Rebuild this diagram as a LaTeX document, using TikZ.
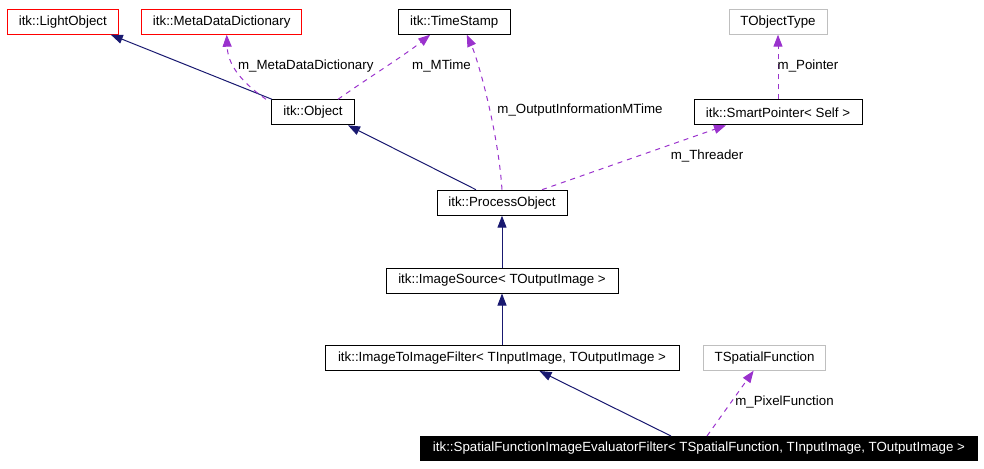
\documentclass[tikz,border=0pt]{standalone}
\usepackage{fontspec}
\setmainfont{Liberation Sans}
\usepackage{xcolor}
\definecolor{edgeNavy}{HTML}{191970}
\definecolor{edgePurple}{HTML}{9A32CD}
\definecolor{boxRed}{HTML}{FF0000}
\definecolor{boxGray}{HTML}{BFBFBF}
\usepackage{tikz}
\usetikzlibrary{
    arrows.meta,
    positioning
}
\tikzset{
    % Base style for all class boxes
    class base/.style={
        font=\fontsize{13.3}{16}\selectfont,
        rectangle,
        inner sep=0pt,
        minimum height=25pt,
        line width=1pt,
        text=black,
    },
    % Documented classes - plain black frame
    klass/.style={
        class base,
        draw=black,
    },
    % Classes without documentation - red frame
    klass red/.style={
        class base,
        draw=boxRed,
    },
    % Template parameters - light gray frame
    klass param/.style={
        class base,
        draw=boxGray,
    },
    % The class the graph is drawn for - inverted
    klass main/.style={
        class base,
        draw=black,
        fill=black,
        text=white,
    },
    % Inheritance arrow - solid navy
    inherit/.style={
        -{Triangle[length=12pt, width=9pt]},
        line width=1pt,
        draw=edgeNavy,
    },
    % Usage arrow - dashed purple
    uses/.style={
        -{Triangle[length=12pt, width=9pt]},
        line width=1pt,
        draw=edgePurple,
        dash pattern=on 5pt off 5pt,
    },
    % Member name next to a usage arrow
    edge label/.style={
        font=\fontsize{13.3}{16}\selectfont,
        inner sep=0pt,
        text=black,
    },
}

\begin{document}
\begin{tikzpicture}[x=1pt, y=-1pt]
    \useasboundingbox (0,0) rectangle (984,468);

    \node (lightobj) [klass red, minimum width=111pt] at (62.8,21.7) {itk::LightObject};
    \node (metadict) [klass red, minimum width=160pt] at (221.7,21.7) {itk::MetaDataDictionary};
    \node (timestamp) [klass, minimum width=112pt] at (454.2,21.7) {itk::TimeStamp};
    \node (objtype) [klass param, minimum width=98pt] at (778,21.7) {TObjectType};
    \node (object) [klass, minimum width=83pt] at (313,112.3) {itk::Object};
    \node (smartptr) [klass, minimum width=168pt] at (778,112.3) {itk::SmartPointer< Self >};
    \node (procobj) [klass, minimum width=130pt] at (502,202.7) {itk::ProcessObject};
    \node (imgsource) [klass, minimum width=232pt] at (502,280.5) {itk::ImageSource< TOutputImage >};
    \node (imgfilter) [klass, minimum width=354pt] at (502,358) {itk::ImageToImageFilter< TInputImage, TOutputImage >};
    \node (spatialfn) [klass param, minimum width=122pt] at (764.6,357.7) {TSpatialFunction};
    \node (evalfilter) [klass main, minimum width=557pt, minimum height=24pt] at (699,448.5) {itk::SpatialFunctionImageEvaluatorFilter< TSpatialFunction, TInputImage, TOutputImage >};

    \draw [inherit] ([xshift=1pt]object.north west) -- ([xshift=-8pt]lightobj.south east);
    \draw [uses] ([xshift=-5pt]object.north west) .. controls (250,88) and (228,70) .. ([xshift=5pt]metadict.south);
    \draw [uses] ([xshift=25pt]object.north) .. controls (365,80) and (405,55) .. ([xshift=-24pt]timestamp.south);
    \draw [inherit] ([xshift=-26pt]procobj.north) -- ([xshift=-7pt]object.south east);
    \draw [uses] (procobj.north) .. controls (498,130) and (478,60) .. ([xshift=12.6pt]timestamp.south);
    \draw [uses] ([xshift=40pt]procobj.north) -- ([xshift=-52pt]smartptr.south);
    \draw [uses] (smartptr.north) -- (objtype.south);
    \draw [inherit] (imgsource) -- (procobj);
    \draw [inherit] (imgfilter) -- (imgsource);
    \draw [inherit] ([xshift=-28pt]evalfilter.north) -- ([xshift=37.5pt]imgfilter.south);
    \draw [uses] ([xshift=8pt]evalfilter.north) -- ([xshift=-11pt]spatialfn.south);

    \node (lblmeta) [edge label] at (305.8,65.7) {m\_MetaDataDictionary};
    \node (lblmtime) [edge label] at (441.5,65.7) {m\_MTime};
    \node (lbloutinfo) [edge label] at (580,110) {m\_OutputInformationMTime};
    \node (lblthreader) [edge label] at (707,156) {m\_Threader};
    \node (lblpointer) [edge label] at (808,65.7) {m\_Pointer};
    \node (lblpixel) [edge label] at (784.5,401.7) {m\_PixelFunction};
\end{tikzpicture}
\end{document}
